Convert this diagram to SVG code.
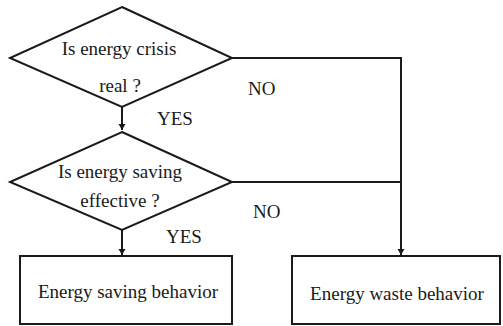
<svg xmlns="http://www.w3.org/2000/svg" width="503" height="326" viewBox="0 0 503 326">
<defs>
<marker id="arr" markerWidth="8" markerHeight="8" refX="6" refY="4" orient="auto" markerUnits="userSpaceOnUse">
<path d="M0,0.5 L6,4 L0,7.5 Z" fill="#1a1a1a"/>
</marker>
<style>
.shape{fill:#fff;stroke:#1a1a1a;stroke-width:2}
.line{fill:none;stroke:#1a1a1a;stroke-width:2}
</style>
</defs>
<g font-family="Liberation Serif, DejaVu Serif, serif" font-size="19" fill="#1a1a1a">
<g id="connectors">
<line class="line" x1="122" y1="107" x2="122" y2="130" marker-end="url(#arr)"/>
<line class="line" x1="122" y1="230" x2="122" y2="255" marker-end="url(#arr)"/>
<polyline class="line" points="232,58 401,58 401,255" marker-end="url(#arr)"/>
<line class="line" x1="232" y1="182" x2="401" y2="182"/>
<text x="157" y="125">YES</text>
<text x="166" y="243">YES</text>
<text x="248" y="95">NO</text>
<text x="253" y="218">NO</text>
</g>
<g id="d1">
<polygon class="shape" points="122,7 232,58 122,107 10,58"/>
<text text-anchor="middle" x="119" y="55">Is energy crisis</text>
<text text-anchor="middle" x="120" y="92">real ?</text>
</g>
<g id="d2">
<polygon class="shape" points="122,132 232,182 122,230 10,182"/>
<text text-anchor="middle" x="120" y="178">Is energy saving</text>
<text text-anchor="middle" x="120" y="207">effective ?</text>
</g>
<g id="b1">
<rect class="shape" x="20" y="256" width="212" height="68"/>
<text text-anchor="middle" x="128" y="298">Energy saving behavior</text>
</g>
<g id="b2">
<rect class="shape" x="292" y="256" width="208" height="68"/>
<text text-anchor="middle" x="397" y="300">Energy waste behavior</text>
</g>
</g>
</svg>
